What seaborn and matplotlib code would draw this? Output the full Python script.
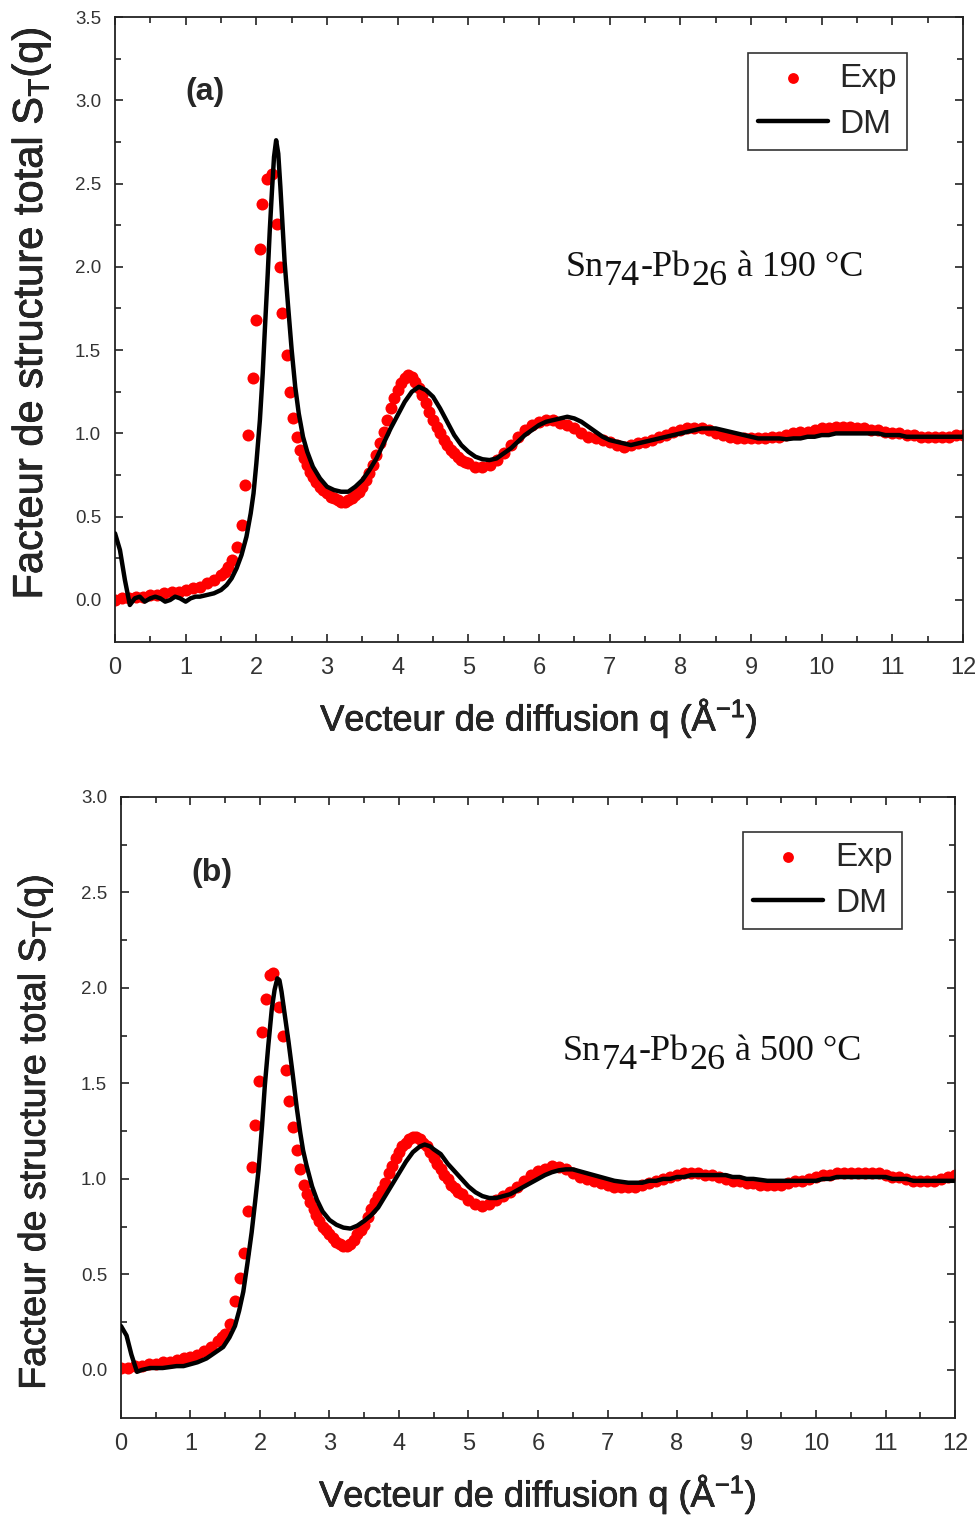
import numpy as np
import pandas as pd
import matplotlib
matplotlib.use("Agg")
import matplotlib.pyplot as plt
import matplotlib.patheffects as pe
import seaborn as sns

# ---------------- panel (a) : Sn74-Pb26 a 190 C ----------------
q_exp_a = [0.0, 0.1, 0.2, 0.3, 0.4, 0.5, 0.6, 0.7, 0.8, 0.9, 1.0, 1.1, 1.2, 1.3, 1.4, 1.5,
           1.55, 1.6, 1.65, 1.72, 1.79, 1.84, 1.885, 1.95, 1.99, 2.05, 2.08, 2.145, 2.215,
           2.29, 2.33, 2.37, 2.43, 2.475, 2.52, 2.57, 2.62, 2.67, 2.72, 2.76, 2.8, 2.85, 2.9,
           2.95, 3.0, 3.05, 3.1, 3.15, 3.2, 3.25, 3.3, 3.35, 3.4, 3.45, 3.5, 3.55, 3.6, 3.65,
           3.7, 3.75, 3.8, 3.85, 3.9, 3.95, 4.0, 4.05, 4.1, 4.15, 4.2, 4.25, 4.3, 4.35, 4.4,
           4.45, 4.5, 4.55, 4.6, 4.65, 4.7, 4.75, 4.8, 4.85, 4.9, 4.95, 5.0, 5.1, 5.2, 5.3,
           5.4, 5.5, 5.6, 5.7, 5.8, 5.9, 6.0, 6.1, 6.2, 6.3, 6.4, 6.5, 6.6, 6.7, 6.8, 6.9,
           7.0, 7.1, 7.2, 7.3, 7.4, 7.5, 7.6, 7.7, 7.8, 7.9, 8.0, 8.1, 8.2, 8.3, 8.4, 8.5,
           8.6, 8.7, 8.8, 8.9, 9.0, 9.1, 9.2, 9.3, 9.4, 9.5, 9.6, 9.7, 9.8, 9.9, 10.0, 10.1,
           10.2, 10.3, 10.4, 10.5, 10.6, 10.7, 10.8, 10.9, 11.0, 11.1, 11.2, 11.3, 11.4, 11.5,
           11.6, 11.7, 11.8, 11.9, 12.0]
s_exp_a = [0.00, 0.01, 0.01, 0.02, 0.02, 0.03, 0.03, 0.04, 0.05, 0.05, 0.06, 0.07, 0.08, 0.10, 0.12, 0.15,
           0.17, 0.20, 0.24, 0.32, 0.45, 0.69, 0.99, 1.33, 1.68, 2.11, 2.38, 2.53, 2.56,
           2.26, 2.00, 1.72, 1.47, 1.25, 1.09, 0.98, 0.90, 0.85, 0.81, 0.77, 0.74, 0.71, 0.68,
           0.66, 0.64, 0.62, 0.61, 0.60, 0.59, 0.59, 0.60, 0.61, 0.63, 0.65, 0.68, 0.72, 0.76, 0.81,
           0.87, 0.94, 1.01, 1.08, 1.15, 1.21, 1.26, 1.30, 1.33, 1.35, 1.34, 1.31, 1.27, 1.23, 1.18,
           1.13, 1.08, 1.04, 1.00, 0.96, 0.93, 0.90, 0.88, 0.86, 0.84, 0.83, 0.82, 0.80, 0.80, 0.81,
           0.84, 0.88, 0.93, 0.98, 1.02, 1.05, 1.07, 1.08, 1.08, 1.06, 1.05, 1.03, 1.00, 0.98, 0.97, 0.96,
           0.95, 0.93, 0.92, 0.93, 0.94, 0.95, 0.96, 0.98, 0.99, 1.01, 1.02, 1.03, 1.03, 1.03, 1.02, 1.00,
           0.99, 0.98, 0.97, 0.97, 0.97, 0.97, 0.97, 0.98, 0.98, 0.99, 1.00, 1.01, 1.01, 1.02, 1.03, 1.03,
           1.04, 1.04, 1.04, 1.03, 1.03, 1.02, 1.02, 1.01, 1.00, 1.00, 0.99, 0.99, 0.98, 0.98,
           0.98, 0.98, 0.98, 0.99, 0.99]

q_dm_a = [0.0, 0.07, 0.14, 0.21, 0.28, 0.35, 0.42, 0.5, 0.57, 0.64, 0.71, 0.78, 0.85, 0.92, 1.0,
          1.07, 1.14, 1.2, 1.3, 1.4, 1.5, 1.58, 1.65, 1.72, 1.79, 1.86, 1.92, 1.96, 2.0, 2.05,
          2.09, 2.12, 2.16, 2.19, 2.22, 2.25, 2.28, 2.31, 2.34, 2.37, 2.4, 2.45, 2.5, 2.55, 2.6,
          2.66, 2.72, 2.8, 2.9, 3.0, 3.1, 3.2, 3.3, 3.4, 3.5, 3.6, 3.7, 3.8, 3.9, 4.0, 4.1, 4.2,
          4.3, 4.4, 4.5, 4.6, 4.7, 4.8, 4.9, 5.0, 5.1, 5.2, 5.3, 5.4, 5.5, 5.6, 5.7, 5.8, 5.9,
          6.0, 6.1, 6.2, 6.3, 6.4, 6.5, 6.6, 6.7, 6.8, 6.9, 7.0, 7.1, 7.2, 7.3, 7.4, 7.5, 7.6,
          7.7, 7.8, 7.9, 8.0, 8.1, 8.2, 8.3, 8.4, 8.5, 8.6, 8.7, 8.8, 8.9, 9.0, 9.1, 9.2, 9.3,
          9.4, 9.5, 9.6, 9.7, 9.8, 9.9, 10.0, 10.1, 10.2, 10.3, 10.4, 10.5, 10.6, 10.7, 10.8,
          10.9, 11.0, 11.1, 11.2, 11.3, 11.4, 11.5, 11.6, 11.7, 11.8, 11.9, 12.0]
s_dm_a = [0.40, 0.30, 0.12, -0.03, 0.01, 0.02, -0.01, 0.01, 0.02, 0.01, -0.01, 0.00, 0.02, 0.01, -0.01,
          0.01, 0.02, 0.02, 0.03, 0.04, 0.06, 0.09, 0.13, 0.19, 0.27, 0.38, 0.52, 0.64, 0.82, 1.08,
          1.36, 1.62, 1.95, 2.22, 2.45, 2.66, 2.76, 2.68, 2.48, 2.25, 2.03, 1.76, 1.50, 1.28, 1.12,
          0.98, 0.89, 0.80, 0.73, 0.68, 0.66, 0.65, 0.65, 0.68, 0.72, 0.78, 0.85, 0.94, 1.03, 1.11, 1.19, 1.25,
          1.28, 1.26, 1.22, 1.15, 1.07, 0.99, 0.93, 0.89, 0.86, 0.845, 0.84, 0.85, 0.88, 0.91, 0.95, 0.99, 1.02,
          1.05, 1.07, 1.08, 1.09, 1.10, 1.09, 1.07, 1.04, 1.01, 0.98, 0.96, 0.95, 0.94, 0.93, 0.94, 0.95, 0.96,
          0.97, 0.98, 0.99, 1.00, 1.01, 1.02, 1.03, 1.03, 1.03, 1.02, 1.01, 1.00, 0.99, 0.98, 0.97, 0.97, 0.97,
          0.97, 0.965, 0.97, 0.97, 0.98, 0.98, 0.99, 0.99, 1.00, 1.00, 1.00, 1.00, 1.00, 1.00, 1.00,
          0.99, 0.99, 0.99, 0.98, 0.98, 0.98, 0.98, 0.98, 0.98, 0.98, 0.98, 0.98]

# ---------------- panel (b) : Sn74-Pb26 a 500 C ----------------
q_exp_b = [0.0, 0.1, 0.2, 0.3, 0.4, 0.5, 0.6, 0.7, 0.8, 0.9, 1.0, 1.1, 1.2, 1.3, 1.4, 1.45, 1.5,
           1.57, 1.64, 1.71, 1.77, 1.83, 1.89, 1.93, 1.99, 2.03, 2.08, 2.15, 2.19, 2.28, 2.33,
           2.37, 2.42, 2.47, 2.53, 2.58, 2.63, 2.68, 2.72, 2.77, 2.81, 2.85, 2.9, 2.95, 3.0,
           3.05, 3.1, 3.15, 3.2, 3.25, 3.3, 3.35, 3.4, 3.45, 3.5, 3.55, 3.6, 3.65, 3.7, 3.75,
           3.8, 3.85, 3.9, 3.95, 4.0, 4.05, 4.1, 4.15, 4.2, 4.25, 4.3, 4.35, 4.4, 4.45, 4.5,
           4.55, 4.6, 4.65, 4.7, 4.75, 4.8, 4.85, 4.9, 5.0, 5.1, 5.2, 5.3, 5.4, 5.5, 5.6, 5.7,
           5.8, 5.9, 6.0, 6.1, 6.2, 6.3, 6.4, 6.5, 6.6, 6.7, 6.8, 6.9, 7.0, 7.1, 7.2, 7.3, 7.4,
           7.5, 7.6, 7.7, 7.8, 7.9, 8.0, 8.1, 8.2, 8.3, 8.4, 8.5, 8.6, 8.7, 8.8, 8.9, 9.0, 9.1,
           9.2, 9.3, 9.4, 9.5, 9.6, 9.7, 9.8, 9.9, 10.0, 10.1, 10.2, 10.3, 10.4, 10.5, 10.6,
           10.7, 10.8, 10.9, 11.0, 11.1, 11.2, 11.3, 11.4, 11.5, 11.6, 11.7, 11.8, 11.9, 12.0]
s_exp_b = [0.01, 0.01, 0.02, 0.02, 0.03, 0.03, 0.04, 0.04, 0.05, 0.06, 0.07, 0.08, 0.10, 0.12, 0.15, 0.17, 0.19,
           0.24, 0.36, 0.48, 0.61, 0.83, 1.06, 1.28, 1.51, 1.77, 1.94, 2.07, 2.08, 1.90, 1.75,
           1.57, 1.41, 1.27, 1.15, 1.05, 0.97, 0.92, 0.88, 0.84, 0.81, 0.78, 0.75, 0.73, 0.71,
           0.69, 0.67, 0.66, 0.65, 0.65, 0.66, 0.68, 0.71, 0.73, 0.76, 0.80, 0.84, 0.88, 0.91, 0.94,
           0.98, 1.03, 1.07, 1.11, 1.14, 1.17, 1.19, 1.21, 1.22, 1.22, 1.21, 1.19, 1.17, 1.14, 1.11,
           1.08, 1.05, 1.02, 1.00, 0.97, 0.95, 0.93, 0.92, 0.89, 0.87, 0.86, 0.87, 0.89, 0.91, 0.93, 0.96,
           0.99, 1.02, 1.04, 1.05, 1.065, 1.06, 1.05, 1.03, 1.01, 1.00, 0.99, 0.98, 0.97, 0.96, 0.96, 0.96, 0.96,
           0.97, 0.98, 0.99, 1.00, 1.01, 1.02, 1.03, 1.03, 1.03, 1.02, 1.02, 1.01, 1.00, 0.99, 0.99, 0.98, 0.98,
           0.97, 0.97, 0.97, 0.97, 0.98, 0.99, 0.99, 1.00, 1.01, 1.02, 1.02, 1.03, 1.03, 1.03, 1.03,
           1.03, 1.03, 1.03, 1.02, 1.01, 1.01, 1.00, 0.99, 0.99, 0.99, 0.99, 1.00, 1.01, 1.02]

q_dm_b = [0.0, 0.08, 0.15, 0.23, 0.3, 0.42, 0.6, 0.8, 0.9, 1.0, 1.1, 1.23, 1.35, 1.47, 1.56, 1.64,
          1.7, 1.76, 1.82, 1.88, 1.93, 1.98, 2.03, 2.07, 2.12, 2.17, 2.21, 2.25, 2.28, 2.31, 2.36,
          2.41, 2.47, 2.53, 2.58, 2.62, 2.67, 2.75, 2.82, 2.9, 3.0, 3.1, 3.2, 3.3, 3.4, 3.5, 3.6,
          3.7, 3.8, 3.9, 4.0, 4.1, 4.2, 4.3, 4.37, 4.45, 4.5, 4.6, 4.7, 4.8, 4.9, 5.0, 5.1, 5.2,
          5.3, 5.4, 5.5, 5.6, 5.7, 5.8, 5.9, 6.0, 6.1, 6.2, 6.3, 6.4, 6.5, 6.6, 6.7, 6.8, 6.9,
          7.0, 7.1, 7.2, 7.3, 7.4, 7.5, 7.6, 7.7, 7.8, 7.9, 8.0, 8.1, 8.2, 8.3, 8.4, 8.5, 8.6,
          8.7, 8.8, 8.9, 9.0, 9.1, 9.2, 9.3, 9.4, 9.5, 9.6, 9.7, 9.8, 9.9, 10.0, 10.1, 10.2,
          10.3, 10.4, 10.5, 10.6, 10.7, 10.8, 10.9, 11.0, 11.1, 11.2, 11.3, 11.4, 11.5, 11.6,
          11.7, 11.8, 11.9, 12.0]
s_dm_b = [0.23, 0.18, 0.08, -0.01, 0.00, 0.01, 0.01, 0.02, 0.02, 0.03, 0.04, 0.06, 0.09, 0.12, 0.17, 0.23,
          0.31, 0.41, 0.56, 0.72, 0.88, 1.05, 1.28, 1.49, 1.70, 1.89, 1.99, 2.05, 2.04, 1.98, 1.85,
          1.72, 1.55, 1.37, 1.24, 1.15, 1.07, 0.96, 0.89, 0.83, 0.785, 0.76, 0.745, 0.74, 0.755, 0.78, 0.81,
          0.85, 0.91, 0.97, 1.03, 1.09, 1.14, 1.17, 1.18, 1.17, 1.155, 1.13, 1.08, 1.04, 1.00, 0.96, 0.93, 0.91,
          0.90, 0.90, 0.91, 0.92, 0.94, 0.96, 0.98, 1.00, 1.02, 1.035, 1.045, 1.05, 1.05, 1.04, 1.03, 1.02, 1.01,
          1.00, 0.99, 0.985, 0.98, 0.98, 0.98, 0.99, 0.99, 1.00, 1.00, 1.01, 1.01, 1.02, 1.02, 1.02, 1.02, 1.02,
          1.02, 1.01, 1.01, 1.00, 1.00, 0.995, 0.99, 0.99, 0.99, 0.99, 0.99, 0.99, 0.99, 0.99, 1.00, 1.00,
          1.01, 1.01, 1.01, 1.01, 1.01, 1.01, 1.01, 1.01, 1.00, 1.00, 1.00, 0.99, 0.99, 0.99,
          0.99, 0.99, 0.99, 0.99]

panel_labels = ["(a)", "(b)"]
# alloy label pieces: (text, lowered as subscript?)
alloy_pieces_a = [("Sn", False), ("74", True), ("-Pb", False), ("26", True), (" à 190 °C", False)]
alloy_pieces_b = [("Sn", False), ("74", True), ("-Pb", False), ("26", True), (" à 500 °C", False)]
y_tops = [3.5, 3.0]

sns.set_style("ticks")
plt.rcParams["font.family"] = ["Liberation Sans", "DejaVu Sans"]
plt.rcParams["mathtext.fontset"] = "custom"
plt.rcParams["mathtext.rm"] = "Liberation Sans"
plt.rcParams["mathtext.it"] = "Liberation Sans"

heavy = [pe.withStroke(linewidth=0.5, foreground="black")]


def alloy_label(ax, x, y, pieces, size=26, drop=6.5):
    # chain the pieces so subscripts keep full size but sit lower
    t = ax.text(x, y, pieces[0][0], fontsize=size, family="Liberation Serif",
                ha="left", va="bottom", color="#111111")
    prev_sub = False
    for txt, sub in pieces[1:]:
        dy = 0.0
        if sub and not prev_sub:
            dy = -drop
        elif prev_sub and not sub:
            dy = drop
        t = ax.annotate(txt, xy=(1, 0), xycoords=t, xytext=(0.5, dy),
                        textcoords="offset points", fontsize=size,
                        family="Liberation Serif", ha="left", va="bottom", color="#111111")
        prev_sub = sub


def draw_panel(ax, q_exp, s_exp, q_dm, s_dm, label, pieces, ytop, lab_xy, txt_xy,
               leg_anchor, ylab_size, ylab_pos):
    exp_df = pd.DataFrame({"q": q_exp, "S": s_exp})
    dm_df = pd.DataFrame({"q": q_dm, "S": s_dm})
    sns.scatterplot(data=exp_df, x="q", y="S", ax=ax, color="#ff0000", s=75,
                    linewidth=0, label="Exp", zorder=2)
    sns.lineplot(data=dm_df, x="q", y="S", ax=ax, color="black", lw=3.2,
                 label="DM", zorder=3, sort=False)

    ax.set_xlim(0, 12)
    ax.set_ylim(-0.25, ytop)
    ax.set_xticks(np.arange(0, 13, 1))
    ax.set_xticks(np.arange(0, 12.01, 0.5), minor=True)
    ax.set_yticks(np.arange(0, ytop + 0.01, 0.5))
    ax.set_yticks(np.arange(0, ytop + 0.01, 0.25), minor=True)
    ax.tick_params(which="both", direction="in", top=True, right=True, width=1.2, color="#222222")
    ax.tick_params(which="major", length=5.5)
    ax.tick_params(which="minor", length=4.5)
    ax.tick_params(axis="x", pad=11, labelsize=17, labelcolor="#333333")
    ax.tick_params(axis="y", pad=10, labelsize=13.5, labelcolor="#333333")
    ax.set_yticklabels([f"{v:.1f}" for v in np.arange(0, ytop + 0.01, 0.5)])
    for sp in ax.spines.values():
        sp.set_linewidth(1.3)
        sp.set_color("#222222")

    ax.set_xlabel("Vecteur de diffusion q (Å$^{-1}$)", fontsize=26, labelpad=12,
                  path_effects=heavy)
    # ylabel anchored by its right edge (va="bottom" on the rotated text)
    ax.set_ylabel("Facteur de structure total S$_T$(q)", fontsize=ylab_size,
                  path_effects=heavy)
    ax.yaxis.set_label_coords(ylab_pos[0], ylab_pos[1])

    ax.text(lab_xy[0], lab_xy[1], label, fontsize=23, fontweight="bold",
            ha="center", va="center")
    alloy_label(ax, txt_xy[0], txt_xy[1], pieces)

    leg = ax.legend(loc="upper right", bbox_to_anchor=leg_anchor, fontsize=24,
                    frameon=True, fancybox=False, edgecolor="black", handlelength=2.1,
                    handletextpad=0.35, borderpad=0.3, labelspacing=0.45, markerscale=0.9,
                    borderaxespad=0)
    leg.get_frame().set_linewidth(1.2)


fig = plt.figure(figsize=(9.78, 15.19), dpi=100)
ax_a = fig.add_axes([0.1176, 0.5776, 0.8671, 0.4112])
ax_b = fig.add_axes([0.1237, 0.0667, 0.8528, 0.4087])

draw_panel(ax_a, q_exp_a, s_exp_a, q_dm_a, s_dm_a, panel_labels[0], alloy_pieces_a,
           y_tops[0], (1.27, 3.05), (6.37, 1.90), (0.934, 0.943), 30, (-0.073, 0.525))
draw_panel(ax_b, q_exp_b, s_exp_b, q_dm_b, s_dm_b, panel_labels[1], alloy_pieces_b,
           y_tops[1], (1.31, 2.60), (6.36, 1.58), (0.937, 0.944), 27, (-0.079, 0.46))

fig.savefig("out.png", dpi=100)
